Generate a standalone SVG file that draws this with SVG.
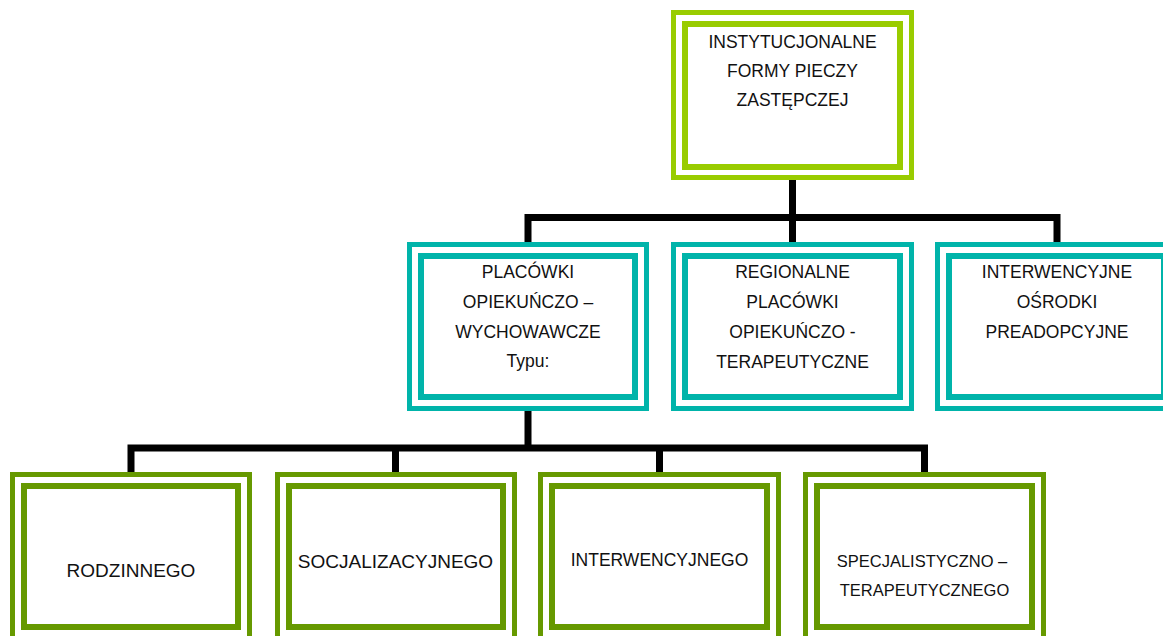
<svg xmlns="http://www.w3.org/2000/svg" width="1163" height="636" viewBox="0 0 1163 636">
  <style>
    .o { fill: #ffffff; stroke-width: 5; }
    .i { fill: #ffffff; stroke-width: 6; }
    .lg { stroke: #99CC00; }
    .tl { stroke: #00B4AA; }
    .dg { stroke: #669900; }
    .conn { fill: none; stroke: #000000; stroke-width: 7; stroke-linecap: square; stroke-linejoin: miter; }
    text { font-family: "Liberation Sans", Arial, sans-serif; font-size: 17.5px; fill: #111111; text-anchor: middle; }
    .big { font-size: 19px; }
    .sm { font-size: 16.5px; }
  </style>
  <rect width="1163" height="636" fill="#ffffff"/>
  <g id="connectors">
    <path class="conn" d="M792.5 181 V241 M528 240 V217.5 H1057 V240"/>
    <path class="conn" d="M528 412 V448 M131 471 V448 H924.5 V471 M395.5 448 V471 M659.5 448 V471"/>
  </g>
  <g id="node-root">
    <rect class="o lg" x="673.5" y="12.5" width="238" height="165"/>
    <rect class="i lg" x="685" y="24" width="215" height="143"/>
    <text x="792.5" y="48">INSTYTUCJONALNE</text>
    <text x="792.5" y="77">FORMY PIECZY</text>
    <text x="792.5" y="106">ZASTĘPCZEJ</text>
  </g>
  <g id="node-placowki">
    <rect class="o tl" x="409.5" y="244.5" width="237" height="164"/>
    <rect class="i tl" x="421" y="256" width="214" height="141"/>
    <text x="528" y="278">PLACÓWKI</text>
    <text x="528" y="308">OPIEKUŃCZO –</text>
    <text x="528" y="338">WYCHOWAWCZE</text>
    <text x="528" y="367">Typu:</text>
  </g>
  <g id="node-regionalne">
    <rect class="o tl" x="673.5" y="244.5" width="238" height="164"/>
    <rect class="i tl" x="685" y="256" width="215" height="141"/>
    <text x="792.5" y="278">REGIONALNE</text>
    <text x="792.5" y="308">PLACÓWKI</text>
    <text x="792.5" y="338">OPIEKUŃCZO -</text>
    <text x="792.5" y="368">TERAPEUTYCZNE</text>
  </g>
  <g id="node-interwencyjne">
    <rect class="o tl" x="937.5" y="244.5" width="238" height="164"/>
    <rect class="i tl" x="949" y="256" width="215" height="141"/>
    <text x="1057" y="278">INTERWENCYJNE</text>
    <text x="1057" y="308">OŚRODKI</text>
    <text x="1057" y="338">PREADOPCYJNE</text>
  </g>
  <g id="node-rodzinnego">
    <rect class="o dg" x="12.5" y="474.5" width="237" height="164"/>
    <rect class="i dg" x="24" y="486" width="214" height="141"/>
    <text class="big" x="131" y="577">RODZINNEGO</text>
  </g>
  <g id="node-socjalizacyjnego">
    <rect class="o dg" x="277.5" y="474.5" width="237" height="164"/>
    <rect class="i dg" x="289" y="486" width="214" height="141"/>
    <text class="big" x="395.5" y="568">SOCJALIZACYJNEGO</text>
  </g>
  <g id="node-interwencyjnego">
    <rect class="o dg" x="540.5" y="474.5" width="238" height="164"/>
    <rect class="i dg" x="552" y="486" width="215" height="141"/>
    <text x="659.5" y="566">INTERWENCYJNEGO</text>
  </g>
  <g id="node-specjalistyczno">
    <rect class="o dg" x="805.5" y="474.5" width="238" height="164"/>
    <rect class="i dg" x="817" y="486" width="215" height="141"/>
    <text class="sm" x="922" y="567">SPECJALISTYCZNO –</text>
    <text class="sm" x="924.5" y="596">TERAPEUTYCZNEGO</text>
  </g>
</svg>
